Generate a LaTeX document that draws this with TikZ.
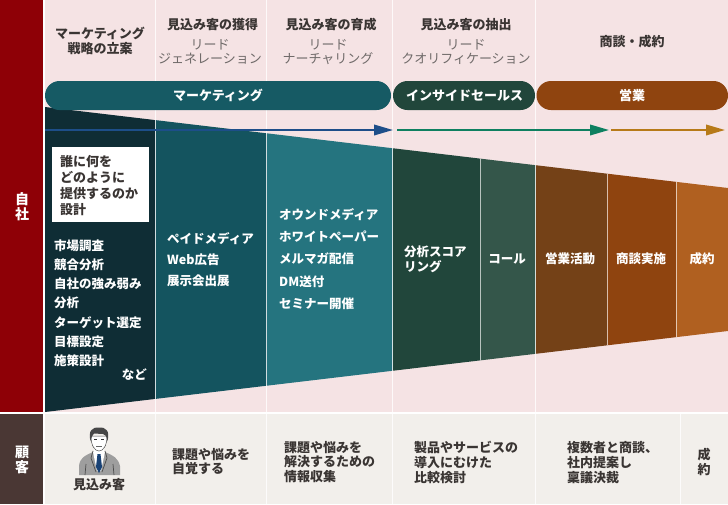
\documentclass[tikz,border=0pt]{standalone}
\usepackage{fontspec}
\setmainfont{Noto Sans CJK JP}
\usetikzlibrary{arrows.meta}
\definecolor{redcol}{HTML}{8E0006}
\definecolor{browncol}{HTML}{4A3734}
\definecolor{pinkbg}{HTML}{F5E3E4}
\definecolor{greybg}{HTML}{F2EFEB}
\definecolor{segA}{HTML}{0F2D35}
\definecolor{segB}{HTML}{14545F}
\definecolor{segC}{HTML}{25747F}
\definecolor{segD}{HTML}{21463B}
\definecolor{segE}{HTML}{34564A}
\definecolor{segF}{HTML}{744117}
\definecolor{segG}{HTML}{8F440F}
\definecolor{segH}{HTML}{B06020}
\definecolor{pillA}{HTML}{165A64}
\definecolor{txtdark}{HTML}{3A3533}
\definecolor{txtgrey}{HTML}{6F6A69}
\definecolor{arrA}{HTML}{1D4E89}
\definecolor{arrB}{HTML}{0E8060}
\definecolor{arrC}{HTML}{B77A18}
\tikzset{
  head/.style={font=\fontsize{13}{15}\selectfont\bfseries,text=txtdark,align=center,inner sep=0pt},
  subhead/.style={font=\fontsize{13}{14}\selectfont,text=txtgrey,align=center,inner sep=0pt},
  pilltext/.style={font=\fontsize{13}{15}\selectfont\bfseries,text=white,inner sep=0pt},
  body/.style={font=\fontsize{12.5}{15}\selectfont\bfseries,text=white,inner sep=0pt,anchor=west},
  bottomtext/.style={font=\fontsize{13}{14.7}\selectfont\bfseries,text=txtdark,align=left,inner sep=0pt,anchor=west},
  sidetext/.style={font=\fontsize{14}{15}\selectfont\bfseries,text=white,align=center,inner sep=0pt},
  flow/.style={line width=2pt,-{Triangle[length=19pt,width=10.5pt]},shorten >=0pt},
  divider/.style={white,line width=1pt},
  softdiv/.style={white,opacity=.65,line width=1pt},
}
\begin{document}
\begin{tikzpicture}[x=1pt,y=-1pt]
\useasboundingbox (0,0) rectangle (728,504);
\fill[white] (0,0) rectangle (728,504);
% side bands
\fill[redcol] (0,0) rectangle (43,412);
\fill[browncol] (0,414) rectangle (43,504);
\fill[pinkbg] (45,0) rectangle (728,412);
\fill[greybg] (45,414) rectangle (728,504);
% funnel
\begin{scope}
\clip (45,107) -- (728,188) -- (728,331) -- (45,412) -- cycle;
\fill[segA] (45,100) rectangle (155,420);
\fill[segB] (155,100) rectangle (266.5,420);
\fill[segC] (266.5,100) rectangle (392.5,420);
\fill[segD] (392.5,100) rectangle (480,420);
\fill[segE] (480,100) rectangle (535.5,420);
\fill[segF] (535.5,100) rectangle (607,420);
\fill[segG] (607,100) rectangle (676,420);
\fill[segH] (676,100) rectangle (728,420);
\draw[softdiv] (480,100) -- (480,420);
\draw[softdiv] (607,100) -- (607,420);
\draw[softdiv] (676,100) -- (676,420);
\end{scope}
% column lines
\foreach \x in {155,266.5,392.5,535.5} {
  \draw[divider,opacity=.8] (\x,0) -- (\x,412);
  \draw[divider,opacity=.8] (\x,414) -- (\x,504);
}
\draw[divider,opacity=.8] (680,414) -- (680,504);
% pills
\fill[pillA] (45,81) [rounded corners=14.5pt] rectangle (391,110);
\fill[segD] (393,81) [rounded corners=14.5pt] rectangle (535,110);
\fill[segG] (536.5,81) [rounded corners=14.5pt] rectangle (728,110);
\node[pilltext] (pillM) at (218,95.5) {マーケティング};
\node[pilltext] (pillI) at (464.5,95.5) {インサイドセールス};
\node[pilltext] (pillS) at (632,95.5) {営業};
% flow arrows
\coordinate (a0) at (45,130);
\coordinate (a1) at (393,130);
\coordinate (b0) at (397,130);
\coordinate (b1) at (609,130);
\coordinate (c0) at (611,130);
\coordinate (c1) at (725,130);
\draw[flow,arrA] (a0) -- (a1);
\draw[flow,arrB] (b0) -- (b1);
\draw[flow,arrC] (c0) -- (c1);
% headers
\node[head] (h1) at (100,41) {マーケティング\\戦略の立案};
\node[head] (h2) at (212.5,25) {見込み客の獲得};
\node[subhead] (s2) at (210,52) {リード\\ジェネレーション};
\node[head] (h3) at (331,25) {見込み客の育成};
\node[subhead] (s3) at (328,52) {リード\\ナーチャリング};
\node[head] (h4) at (466,25) {見込み客の抽出};
\node[subhead] (s4) at (466,52) {リード\\クオリフィケーション};
\node[head] (h5) at (632,42) {商談・成約};
% side labels
\node[sidetext] (me) at (22,206.5) {自\\社};
\node[sidetext] (cust) at (22,459.5) {顧\\客};
% white box
\fill[white] (52,147) rectangle (149,221.5);
\node[font=\fontsize{13}{16.3}\selectfont\bfseries,text=txtdark,align=left,inner sep=0pt,anchor=west] (box) at (60,185.5) {誰に何を\\どのように\\提供するのか\\設計};
% column 1 list
\node[body] (l1) at (54,246) {市場調査};
\node[body] (l2) at (54,265) {競合分析};
\node[body] (l3) at (54,284) {自社の強み弱み};
\node[body] (l4) at (54,303) {分析};
\node[body] (l5) at (54,323) {ターゲット選定};
\node[body] (l6) at (54,342) {目標設定};
\node[body] (l7) at (54,361) {施策設計};
\node[body,anchor=east] (l8) at (147,375) {など};
% column 2
\node[body] (m1) at (167,239) {ペイドメディア};
\node[body] (m2) at (167,260) {Web広告};
\node[body] (m3) at (167,281) {展示会出展};
% column 3
\node[body] (n1) at (279,215) {オウンドメディア};
\node[body] (n2) at (279,237) {ホワイトペーパー};
\node[body] (n3) at (279,259) {メルマガ配信};
\node[body] (n4) at (279,282) {DM送付};
\node[body] (n5) at (279,304) {セミナー開催};
% column 4..
\node[body,align=left] (p1) at (404,259.5) {分析スコア\\リング};
\node[body,anchor=center] (p2) at (507,259) {コール};
\node[body,anchor=center] (p3) at (570,259) {営業活動};
\node[body,anchor=center] (p4) at (641,259) {商談実施};
\node[body,anchor=center] (p5) at (702,259) {成約};
% bottom row
\node[bottomtext] (b1t) at (172,461.5) {課題や悩みを\\自覚する};
\node[bottomtext] (b2t) at (284,462) {課題や悩みを\\解決するための\\情報収集};
\node[bottomtext] (b3t) at (414,462.5) {製品やサービスの\\導入にむけた\\比較検討};
\node[bottomtext] (b4t) at (567,462.5) {複数者と商談、\\社内提案し\\稟議決裁};
\node[bottomtext,align=center,anchor=center] (b5t) at (704,462) {成\\約};
\node[head] (prospect) at (99,485) {見込み客};
% person icon
\fill[black!38] (79,475) -- (79,466) .. controls (80,458) and (84,456) .. (93,452) -- (105,452) .. controls (114,456) and (118,458) .. (120,466) -- (120,475) -- cycle;
\fill[white] (93,452) -- (105,452) -- (101,471) -- (97,471) -- cycle;
\fill[arrA!85!black] (97.5,454) -- (100.5,454) -- (102,467) -- (99,473) -- (96,467) -- cycle;
\draw[black!70,line width=.7pt] (93,451) -- (91,458) -- (96,472);
\draw[black!70,line width=.7pt] (105,451) -- (107,458) -- (102,472);
\draw[black!70,line width=.7pt] (86,464) -- (85,475);
\draw[black!70,line width=.7pt] (113,464) -- (114,475);
\fill[white] (94,445) rectangle (104,453);
\fill[white,draw=black!70,line width=.5pt] (91,436) .. controls (91,446) and (95,451) .. (99,451) .. controls (103,451) and (107,446) .. (107,436) -- cycle;
\fill[black!72] (90.5,441) .. controls (88,431) and (92,427) .. (99,427.5) .. controls (106,427) and (110,431) .. (107.5,441) .. controls (106.5,436) and (105,434) .. (103,434) -- (94,433.5) .. controls (92.5,435) and (91.5,437) .. (90.5,441) -- cycle;
\fill[black!80] (94,439) rectangle (97,440);
\fill[black!80] (101,439) rectangle (104,440);
\draw[black!60,line width=.5pt] (96,446) -- (102,446);
\end{tikzpicture}
\end{document}
